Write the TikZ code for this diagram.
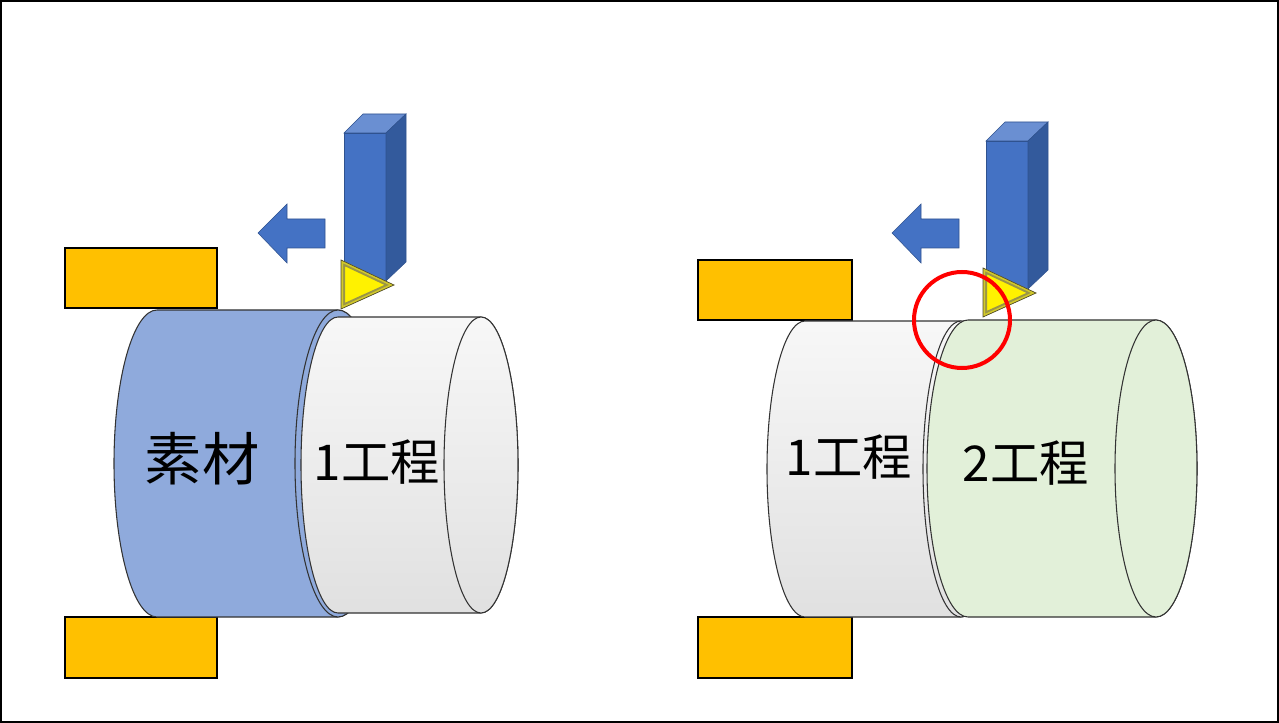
\documentclass[tikz,border=0pt]{standalone}
\usepackage{fontspec}
\newfontfamily\jpfont{Noto Sans CJK JP}
\usepackage{tikz}

\definecolor{jawyellow}{HTML}{FFC000}
\definecolor{stockblue}{HTML}{8FAADC}
\definecolor{toolfront}{HTML}{4472C4}
\definecolor{tooltop}{HTML}{6A8FD2}
\definecolor{toolside}{HTML}{335A9C}
\definecolor{tooledge}{HTML}{2F528F}
\definecolor{stepgreen}{HTML}{E2F0D9}

% cylinder lying on its side: style, left centre x, right centre x, centre y, x radius, y radius
\newcommand{\cylinder}[6]{%
  \draw[#1] (#2,#4-#6) -- (#3,#4-#6)
    arc[start angle=-90,end angle=90,x radius=#5,y radius=#6]
    -- (#2,#4+#6)
    arc[start angle=90,end angle=270,x radius=#5,y radius=#6] -- cycle;
  \draw[#1] (#3,#4) ellipse[x radius=#5,y radius=#6];
}

\begin{document}
\begin{tikzpicture}[x=0.75pt,y=-0.75pt,
    jaw/.style={draw=black,line width=1pt,fill=jawyellow},
    rim/.style={draw=black!80,line width=0.8pt},
    stock/.style={rim,fill=stockblue},
    firststep/.style={rim,top color=black!3,middle color=black!22,bottom color=black!12},
    secondstep/.style={rim,fill=stepgreen},
    feed/.style={fill=toolfront,draw=tooledge,line width=0.4pt},
    label/.style={font=\jpfont\fontsize{37}{40}\selectfont,inner sep=0pt}]
  \useasboundingbox (0,0) rectangle (1279,723);
  \draw[line width=1.5pt] (1,1) rectangle (1278,722);

  % left: raw stock and first step
  \draw[jaw] (65,248) rectangle (217,308);
  \draw[jaw] (65,617) rectangle (217,678);
  \cylinder{stock}{157}{338}{463.5}{43}{153.5}
  \cylinder{firststep}{338}{481}{465}{37}{148}
  \node[label,font=\jpfont\fontsize{43}{46}\selectfont] (raw) at (202,459) {素材};
  \node[label] (stepa) at (377,462) {1工程};

  % right: first step and second step
  \draw[jaw] (698,260) rectangle (852,320);
  \draw[jaw] (698,617) rectangle (852,678);
  \cylinder{firststep}{805}{961}{469}{38}{148}
  \cylinder{secondstep}{968}{1156}{468.5}{41}{148.5}
  \node[label] (stepb) at (849,457) {1工程};
  \node[label] (stepc) at (1026,463) {2工程};

  % cutting tools
  \foreach \dx/\dy in {344/133, 986/141} {
    \begin{scope}[shift={(\dx,\dy)}]
      \draw[fill=toolfront,draw=tooledge,line width=0.4pt] (0,0) rectangle (42,148);
      \draw[fill=tooltop,draw=tooledge,line width=0.4pt] (0,0) -- (19,-19) -- (62,-19) -- (42,0) -- cycle;
      \draw[fill=toolside,draw=tooledge,line width=0.4pt] (42,0) -- (62,-19) -- (62,129) -- (42,148) -- cycle;
      \begin{scope}
        \clip (-3,127) -- (50,152) -- (-3,176) -- cycle;
        \fill[yellow] (-3,127) -- (50,152) -- (-3,176) -- cycle;
        \draw[yellow!55!black,line width=6pt] (-3,127) -- (50,152) -- (-3,176) -- cycle;
        \draw[yellow!80!black,line width=3pt] (-3,127) -- (50,152) -- (-3,176) -- cycle;
      \end{scope}
      \draw[black!60!olive,line width=0.5pt] (-3,127) -- (50,152) -- (-3,176) -- cycle;
    \end{scope}
  }

  % feed direction
  \foreach \tx in {258, 892} {
    \draw[feed] (\tx,233) -- (\tx+29,204) -- (\tx+29,219) -- (\tx+67,219)
      -- (\tx+67,248) -- (\tx+29,248) -- (\tx+29,263) -- cycle;
  }

  % step edge
  \node[circle,draw=red,line width=3pt,minimum size=96*0.75pt,inner sep=0pt] (edge) at (962,320) {};
\end{tikzpicture}
\end{document}
